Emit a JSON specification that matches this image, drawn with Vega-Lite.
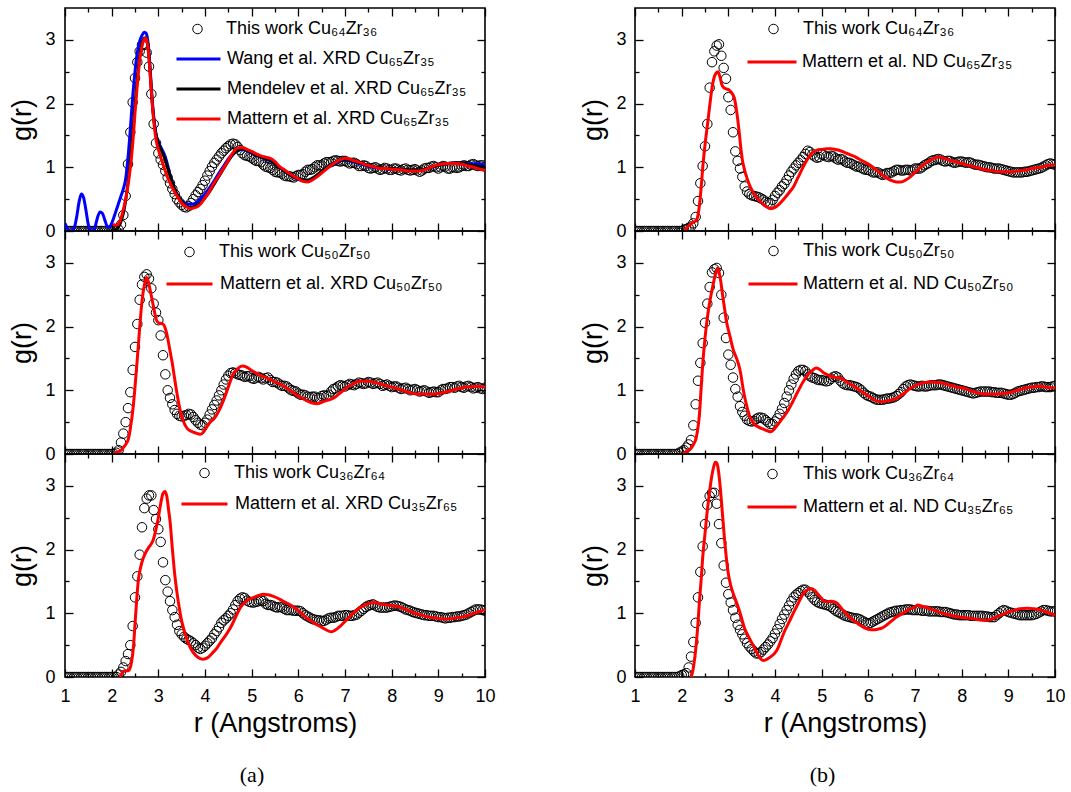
{
  "$schema": "https://vega.github.io/schema/vega-lite/v6.json",
  "padding": {"left": 8, "top": 6, "right": 4, "bottom": 4},
  "background": "white",
  "datasets": {
    "a1t": [{"r":1,"g":0},{"r":1.05,"g":0},{"r":1.1,"g":0},{"r":1.15,"g":0},{"r":1.2,"g":0},{"r":1.25,"g":0},{"r":1.3,"g":0},{"r":1.35,"g":0},{"r":1.4,"g":0},{"r":1.45,"g":0},{"r":1.5,"g":0},{"r":1.55,"g":0},{"r":1.6,"g":0},{"r":1.65,"g":0},{"r":1.7,"g":0},{"r":1.75,"g":0},{"r":1.8,"g":0},{"r":1.85,"g":0},{"r":1.9,"g":0},{"r":1.95,"g":0},{"r":2,"g":0},{"r":2.05,"g":0},{"r":2.1,"g":0},{"r":2.15,"g":0.02},{"r":2.2,"g":0.1},{"r":2.25,"g":0.25},{"r":2.3,"g":0.55},{"r":2.35,"g":1.05},{"r":2.4,"g":1.55},{"r":2.45,"g":2.02},{"r":2.5,"g":2.4},{"r":2.55,"g":2.65},{"r":2.6,"g":2.82},{"r":2.65,"g":2.92},{"r":2.7,"g":2.92},{"r":2.75,"g":2.8},{"r":2.8,"g":2.58},{"r":2.85,"g":2.15},{"r":2.9,"g":1.68},{"r":2.95,"g":1.38},{"r":3,"g":1.22},{"r":3.05,"g":1.12},{"r":3.1,"g":1.04},{"r":3.15,"g":0.94},{"r":3.2,"g":0.84},{"r":3.25,"g":0.75},{"r":3.3,"g":0.66},{"r":3.35,"g":0.58},{"r":3.4,"g":0.5},{"r":3.45,"g":0.45},{"r":3.5,"g":0.41},{"r":3.55,"g":0.38},{"r":3.6,"g":0.37},{"r":3.65,"g":0.39},{"r":3.7,"g":0.44},{"r":3.75,"g":0.5},{"r":3.8,"g":0.56},{"r":3.85,"g":0.61},{"r":3.9,"g":0.66},{"r":3.95,"g":0.72},{"r":4,"g":0.79},{"r":4.05,"g":0.87},{"r":4.1,"g":0.94},{"r":4.15,"g":1.01},{"r":4.2,"g":1.07},{"r":4.25,"g":1.12},{"r":4.3,"g":1.17},{"r":4.35,"g":1.22},{"r":4.4,"g":1.26},{"r":4.45,"g":1.3},{"r":4.5,"g":1.33},{"r":4.55,"g":1.36},{"r":4.6,"g":1.37},{"r":4.65,"g":1.36},{"r":4.7,"g":1.32},{"r":4.75,"g":1.27},{"r":4.8,"g":1.22},{"r":4.85,"g":1.19},{"r":4.9,"g":1.18},{"r":4.95,"g":1.17},{"r":5,"g":1.15},{"r":5.05,"g":1.12},{"r":5.1,"g":1.1},{"r":5.15,"g":1.1},{"r":5.2,"g":1.08},{"r":5.25,"g":1.04},{"r":5.3,"g":1.01},{"r":5.35,"g":1},{"r":5.4,"g":0.99},{"r":5.45,"g":0.96},{"r":5.5,"g":0.93},{"r":5.55,"g":0.92},{"r":5.6,"g":0.92},{"r":5.65,"g":0.9},{"r":5.7,"g":0.87},{"r":5.75,"g":0.86},{"r":5.8,"g":0.86},{"r":5.85,"g":0.85},{"r":5.9,"g":0.84},{"r":5.95,"g":0.86},{"r":6,"g":0.88},{"r":6.05,"g":0.88},{"r":6.1,"g":0.89},{"r":6.15,"g":0.93},{"r":6.2,"g":0.96},{"r":6.25,"g":0.96},{"r":6.3,"g":0.97},{"r":6.35,"g":1},{"r":6.4,"g":1.03},{"r":6.45,"g":1.03},{"r":6.5,"g":1.03},{"r":6.55,"g":1.06},{"r":6.6,"g":1.08},{"r":6.65,"g":1.08},{"r":6.7,"g":1.08},{"r":6.75,"g":1.1},{"r":6.8,"g":1.11},{"r":6.85,"g":1.1},{"r":6.9,"g":1.09},{"r":6.95,"g":1.1},{"r":7,"g":1.1},{"r":7.05,"g":1.08},{"r":7.1,"g":1.06},{"r":7.15,"g":1.07},{"r":7.2,"g":1.07},{"r":7.25,"g":1.05},{"r":7.3,"g":1.02},{"r":7.35,"g":1.02},{"r":7.4,"g":1.03},{"r":7.45,"g":1.02},{"r":7.5,"g":0.99},{"r":7.55,"g":0.98},{"r":7.6,"g":0.99},{"r":7.65,"g":1},{"r":7.7,"g":0.98},{"r":7.75,"g":0.96},{"r":7.8,"g":0.97},{"r":7.85,"g":0.99},{"r":7.9,"g":0.98},{"r":7.95,"g":0.96},{"r":8,"g":0.96},{"r":8.05,"g":0.98},{"r":8.1,"g":0.98},{"r":8.15,"g":0.96},{"r":8.2,"g":0.95},{"r":8.25,"g":0.97},{"r":8.3,"g":0.98},{"r":8.35,"g":0.96},{"r":8.4,"g":0.95},{"r":8.45,"g":0.96},{"r":8.5,"g":0.97},{"r":8.55,"g":0.95},{"r":8.6,"g":0.93},{"r":8.65,"g":0.95},{"r":8.7,"g":0.98},{"r":8.75,"g":0.99},{"r":8.8,"g":0.99},{"r":8.85,"g":1.01},{"r":8.9,"g":1.02},{"r":8.95,"g":1},{"r":9,"g":0.98},{"r":9.05,"g":1},{"r":9.1,"g":1.02},{"r":9.15,"g":1.01},{"r":9.2,"g":0.98},{"r":9.25,"g":0.98},{"r":9.3,"g":1},{"r":9.35,"g":1},{"r":9.4,"g":0.99},{"r":9.45,"g":1},{"r":9.5,"g":1.02},{"r":9.55,"g":1.03},{"r":9.6,"g":1.02},{"r":9.65,"g":1.02},{"r":9.7,"g":1.04},{"r":9.75,"g":1.05},{"r":9.8,"g":1.03},{"r":9.85,"g":1.02},{"r":9.9,"g":1.03},{"r":9.95,"g":1.03},{"r":10,"g":1.01}],
    "a1w": [{"r":1,"g":0.12},{"r":1.05,"g":0.04},{"r":1.1,"g":0},{"r":1.15,"g":0},{"r":1.2,"g":0.05},{"r":1.25,"g":0.22},{"r":1.3,"g":0.45},{"r":1.35,"g":0.58},{"r":1.4,"g":0.52},{"r":1.45,"g":0.32},{"r":1.5,"g":0.1},{"r":1.55,"g":0},{"r":1.6,"g":0},{"r":1.65,"g":0.08},{"r":1.7,"g":0.22},{"r":1.75,"g":0.3},{"r":1.8,"g":0.28},{"r":1.85,"g":0.18},{"r":1.9,"g":0.08},{"r":1.95,"g":0.06},{"r":2,"g":0.12},{"r":2.05,"g":0.22},{"r":2.1,"g":0.33},{"r":2.15,"g":0.44},{"r":2.2,"g":0.55},{"r":2.25,"g":0.66},{"r":2.3,"g":0.82},{"r":2.35,"g":1.15},{"r":2.4,"g":1.6},{"r":2.45,"g":2.1},{"r":2.5,"g":2.5},{"r":2.55,"g":2.8},{"r":2.6,"g":2.98},{"r":2.65,"g":3.07},{"r":2.7,"g":3.12},{"r":2.74,"g":3.1},{"r":2.78,"g":2.95},{"r":2.82,"g":2.6},{"r":2.86,"g":2.15},{"r":2.9,"g":1.8},{"r":2.95,"g":1.52},{"r":3,"g":1.4},{"r":3.05,"g":1.32},{"r":3.1,"g":1.25},{"r":3.15,"g":1.16},{"r":3.2,"g":1.03},{"r":3.25,"g":0.88},{"r":3.3,"g":0.76},{"r":3.35,"g":0.65},{"r":3.4,"g":0.57},{"r":3.45,"g":0.51},{"r":3.5,"g":0.47},{"r":3.55,"g":0.44},{"r":3.6,"g":0.42},{"r":3.7,"g":0.42},{"r":3.8,"g":0.44},{"r":3.9,"g":0.5},{"r":4,"g":0.58},{"r":4.1,"g":0.68},{"r":4.2,"g":0.79},{"r":4.3,"g":0.91},{"r":4.4,"g":1.02},{"r":4.5,"g":1.13},{"r":4.6,"g":1.22},{"r":4.7,"g":1.27},{"r":4.8,"g":1.28},{"r":4.9,"g":1.26},{"r":5,"g":1.22},{"r":5.1,"g":1.19},{"r":5.2,"g":1.16},{"r":5.3,"g":1.13},{"r":5.4,"g":1.1},{"r":5.5,"g":1.06},{"r":5.6,"g":1},{"r":5.7,"g":0.94},{"r":5.8,"g":0.89},{"r":5.9,"g":0.85},{"r":6,"g":0.81},{"r":6.1,"g":0.79},{"r":6.2,"g":0.79},{"r":6.3,"g":0.82},{"r":6.4,"g":0.87},{"r":6.5,"g":0.93},{"r":6.6,"g":0.98},{"r":6.7,"g":1.03},{"r":6.8,"g":1.07},{"r":6.9,"g":1.1},{"r":7,"g":1.11},{"r":7.1,"g":1.1},{"r":7.2,"g":1.08},{"r":7.3,"g":1.06},{"r":7.4,"g":1.04},{"r":7.5,"g":1.02},{"r":7.6,"g":1},{"r":7.8,"g":0.98},{"r":8,"g":0.97},{"r":8.2,"g":0.96},{"r":8.4,"g":0.95},{"r":8.6,"g":0.95},{"r":8.8,"g":0.99},{"r":9,"g":1.03},{"r":9.2,"g":1.06},{"r":9.4,"g":1.07},{"r":9.6,"g":1.06},{"r":9.8,"g":1.05},{"r":10,"g":1.04}],
    "a1m": [{"r":1.9,"g":0},{"r":2,"g":0},{"r":2.05,"g":0.01},{"r":2.1,"g":0.03},{"r":2.15,"g":0.07},{"r":2.2,"g":0.15},{"r":2.25,"g":0.28},{"r":2.3,"g":0.48},{"r":2.35,"g":0.76},{"r":2.4,"g":1.1},{"r":2.45,"g":1.52},{"r":2.5,"g":1.98},{"r":2.55,"g":2.4},{"r":2.6,"g":2.74},{"r":2.65,"g":2.94},{"r":2.7,"g":3.03},{"r":2.74,"g":3.03},{"r":2.78,"g":2.9},{"r":2.82,"g":2.55},{"r":2.86,"g":2.1},{"r":2.9,"g":1.78},{"r":2.95,"g":1.52},{"r":3,"g":1.38},{"r":3.05,"g":1.29},{"r":3.1,"g":1.21},{"r":3.15,"g":1.11},{"r":3.2,"g":0.99},{"r":3.25,"g":0.87},{"r":3.3,"g":0.76},{"r":3.35,"g":0.66},{"r":3.4,"g":0.58},{"r":3.45,"g":0.51},{"r":3.5,"g":0.46},{"r":3.55,"g":0.42},{"r":3.6,"g":0.39},{"r":3.65,"g":0.37},{"r":3.7,"g":0.37},{"r":3.8,"g":0.39},{"r":3.9,"g":0.44},{"r":4,"g":0.52},{"r":4.1,"g":0.62},{"r":4.2,"g":0.74},{"r":4.3,"g":0.86},{"r":4.4,"g":0.98},{"r":4.5,"g":1.1},{"r":4.6,"g":1.2},{"r":4.7,"g":1.27},{"r":4.8,"g":1.29},{"r":4.9,"g":1.27},{"r":5,"g":1.23},{"r":5.1,"g":1.19},{"r":5.2,"g":1.16},{"r":5.3,"g":1.14},{"r":5.4,"g":1.11},{"r":5.5,"g":1.06},{"r":5.6,"g":1},{"r":5.7,"g":0.94},{"r":5.8,"g":0.89},{"r":5.9,"g":0.85},{"r":6,"g":0.82},{"r":6.1,"g":0.8},{"r":6.2,"g":0.8},{"r":6.3,"g":0.83},{"r":6.4,"g":0.88},{"r":6.5,"g":0.94},{"r":6.6,"g":0.99},{"r":6.7,"g":1.04},{"r":6.8,"g":1.08},{"r":6.9,"g":1.11},{"r":7,"g":1.12},{"r":7.1,"g":1.11},{"r":7.2,"g":1.09},{"r":7.3,"g":1.07},{"r":7.4,"g":1.05},{"r":7.5,"g":1.03},{"r":7.6,"g":1.01},{"r":7.8,"g":0.99},{"r":8,"g":0.98},{"r":8.2,"g":0.97},{"r":8.4,"g":0.96},{"r":8.6,"g":0.96},{"r":8.8,"g":0.99},{"r":9,"g":1.03},{"r":9.2,"g":1.06},{"r":9.4,"g":1.07},{"r":9.6,"g":1.05},{"r":9.8,"g":1.02},{"r":10,"g":1}],
    "a1x": [{"r":2.03,"g":0.11},{"r":2.08,"g":0.09},{"r":2.13,"g":0.1},{"r":2.18,"g":0.16},{"r":2.22,"g":0.25},{"r":2.27,"g":0.4},{"r":2.32,"g":0.58},{"r":2.37,"g":0.82},{"r":2.42,"g":1.12},{"r":2.46,"g":1.45},{"r":2.5,"g":1.85},{"r":2.55,"g":2.3},{"r":2.6,"g":2.68},{"r":2.65,"g":2.9},{"r":2.7,"g":3.01},{"r":2.73,"g":3.03},{"r":2.77,"g":2.92},{"r":2.8,"g":2.7},{"r":2.84,"g":2.3},{"r":2.88,"g":1.9},{"r":2.92,"g":1.6},{"r":2.96,"g":1.4},{"r":3,"g":1.28},{"r":3.05,"g":1.16},{"r":3.1,"g":1.05},{"r":3.15,"g":0.94},{"r":3.2,"g":0.84},{"r":3.25,"g":0.76},{"r":3.3,"g":0.68},{"r":3.35,"g":0.61},{"r":3.4,"g":0.55},{"r":3.45,"g":0.49},{"r":3.5,"g":0.44},{"r":3.55,"g":0.4},{"r":3.6,"g":0.38},{"r":3.65,"g":0.36},{"r":3.7,"g":0.35},{"r":3.75,"g":0.36},{"r":3.8,"g":0.37},{"r":3.85,"g":0.39},{"r":3.9,"g":0.42},{"r":4,"g":0.52},{"r":4.1,"g":0.63},{"r":4.2,"g":0.76},{"r":4.3,"g":0.87},{"r":4.4,"g":0.99},{"r":4.5,"g":1.11},{"r":4.6,"g":1.23},{"r":4.7,"g":1.3},{"r":4.8,"g":1.31},{"r":4.9,"g":1.28},{"r":5,"g":1.25},{"r":5.1,"g":1.21},{"r":5.2,"g":1.18},{"r":5.3,"g":1.16},{"r":5.4,"g":1.14},{"r":5.5,"g":1.09},{"r":5.6,"g":1.01},{"r":5.7,"g":0.96},{"r":5.8,"g":0.91},{"r":5.9,"g":0.86},{"r":6,"g":0.82},{"r":6.1,"g":0.78},{"r":6.2,"g":0.77},{"r":6.3,"g":0.8},{"r":6.4,"g":0.85},{"r":6.5,"g":0.91},{"r":6.6,"g":0.97},{"r":6.7,"g":1.03},{"r":6.8,"g":1.08},{"r":6.9,"g":1.12},{"r":7,"g":1.14},{"r":7.1,"g":1.13},{"r":7.2,"g":1.1},{"r":7.3,"g":1.08},{"r":7.4,"g":1.05},{"r":7.5,"g":1.03},{"r":7.6,"g":1.01},{"r":7.7,"g":0.99},{"r":7.8,"g":0.98},{"r":7.9,"g":0.98},{"r":8,"g":0.97},{"r":8.2,"g":0.96},{"r":8.4,"g":0.94},{"r":8.6,"g":0.94},{"r":8.7,"g":0.96},{"r":8.8,"g":0.99},{"r":8.9,"g":1.02},{"r":9,"g":1.04},{"r":9.2,"g":1.06},{"r":9.4,"g":1.06},{"r":9.6,"g":1.03},{"r":9.8,"g":0.99},{"r":10,"g":0.95}],
    "a2t": [{"r":1,"g":0},{"r":1.05,"g":0},{"r":1.1,"g":0},{"r":1.15,"g":0},{"r":1.2,"g":0},{"r":1.25,"g":0},{"r":1.3,"g":0},{"r":1.35,"g":0},{"r":1.4,"g":0},{"r":1.45,"g":0},{"r":1.5,"g":0},{"r":1.55,"g":0},{"r":1.6,"g":0},{"r":1.65,"g":0},{"r":1.7,"g":0},{"r":1.75,"g":0},{"r":1.8,"g":0},{"r":1.85,"g":0},{"r":1.9,"g":0},{"r":1.95,"g":0},{"r":2,"g":0},{"r":2.05,"g":0},{"r":2.1,"g":0.02},{"r":2.15,"g":0.06},{"r":2.2,"g":0.18},{"r":2.25,"g":0.32},{"r":2.3,"g":0.5},{"r":2.35,"g":0.72},{"r":2.4,"g":0.97},{"r":2.45,"g":1.32},{"r":2.5,"g":1.68},{"r":2.55,"g":2.04},{"r":2.6,"g":2.42},{"r":2.65,"g":2.66},{"r":2.7,"g":2.78},{"r":2.75,"g":2.82},{"r":2.8,"g":2.75},{"r":2.85,"g":2.6},{"r":2.9,"g":2.36},{"r":2.95,"g":2.22},{"r":3,"g":2.1},{"r":3.05,"g":1.86},{"r":3.1,"g":1.55},{"r":3.15,"g":1.25},{"r":3.2,"g":1},{"r":3.25,"g":0.88},{"r":3.3,"g":0.78},{"r":3.35,"g":0.69},{"r":3.4,"g":0.63},{"r":3.45,"g":0.6},{"r":3.5,"g":0.59},{"r":3.55,"g":0.6},{"r":3.6,"g":0.61},{"r":3.65,"g":0.63},{"r":3.7,"g":0.62},{"r":3.75,"g":0.58},{"r":3.8,"g":0.53},{"r":3.85,"g":0.49},{"r":3.9,"g":0.46},{"r":3.95,"g":0.45},{"r":4,"g":0.49},{"r":4.05,"g":0.54},{"r":4.1,"g":0.62},{"r":4.15,"g":0.7},{"r":4.2,"g":0.77},{"r":4.25,"g":0.84},{"r":4.3,"g":0.92},{"r":4.35,"g":1},{"r":4.4,"g":1.09},{"r":4.45,"g":1.17},{"r":4.5,"g":1.23},{"r":4.55,"g":1.27},{"r":4.6,"g":1.28},{"r":4.65,"g":1.27},{"r":4.7,"g":1.25},{"r":4.75,"g":1.24},{"r":4.8,"g":1.23},{"r":4.85,"g":1.21},{"r":4.9,"g":1.22},{"r":4.95,"g":1.22},{"r":5,"g":1.19},{"r":5.05,"g":1.18},{"r":5.1,"g":1.2},{"r":5.15,"g":1.21},{"r":5.2,"g":1.19},{"r":5.25,"g":1.17},{"r":5.3,"g":1.19},{"r":5.35,"g":1.2},{"r":5.4,"g":1.16},{"r":5.45,"g":1.13},{"r":5.5,"g":1.13},{"r":5.55,"g":1.12},{"r":5.6,"g":1.09},{"r":5.65,"g":1.07},{"r":5.7,"g":1.07},{"r":5.75,"g":1.06},{"r":5.8,"g":1.03},{"r":5.85,"g":1},{"r":5.9,"g":0.99},{"r":5.95,"g":0.98},{"r":6,"g":0.95},{"r":6.05,"g":0.93},{"r":6.1,"g":0.93},{"r":6.15,"g":0.92},{"r":6.2,"g":0.9},{"r":6.25,"g":0.89},{"r":6.3,"g":0.9},{"r":6.35,"g":0.9},{"r":6.4,"g":0.88},{"r":6.45,"g":0.88},{"r":6.5,"g":0.91},{"r":6.55,"g":0.92},{"r":6.6,"g":0.91},{"r":6.65,"g":0.93},{"r":6.7,"g":0.98},{"r":6.75,"g":1.02},{"r":6.8,"g":1.03},{"r":6.85,"g":1.06},{"r":6.9,"g":1.08},{"r":6.95,"g":1.07},{"r":7,"g":1.06},{"r":7.05,"g":1.08},{"r":7.1,"g":1.1},{"r":7.15,"g":1.09},{"r":7.2,"g":1.08},{"r":7.25,"g":1.1},{"r":7.3,"g":1.12},{"r":7.35,"g":1.11},{"r":7.4,"g":1.1},{"r":7.45,"g":1.11},{"r":7.5,"g":1.13},{"r":7.55,"g":1.12},{"r":7.6,"g":1.1},{"r":7.65,"g":1.11},{"r":7.7,"g":1.12},{"r":7.75,"g":1.1},{"r":7.8,"g":1.07},{"r":7.85,"g":1.08},{"r":7.9,"g":1.09},{"r":7.95,"g":1.07},{"r":8,"g":1.05},{"r":8.05,"g":1.06},{"r":8.1,"g":1.06},{"r":8.15,"g":1.04},{"r":8.2,"g":1.02},{"r":8.25,"g":1.03},{"r":8.3,"g":1.04},{"r":8.35,"g":1.02},{"r":8.4,"g":1},{"r":8.45,"g":1.01},{"r":8.5,"g":1.02},{"r":8.55,"g":1},{"r":8.6,"g":0.98},{"r":8.65,"g":0.99},{"r":8.7,"g":1},{"r":8.75,"g":0.98},{"r":8.8,"g":0.96},{"r":8.85,"g":0.97},{"r":8.9,"g":0.98},{"r":8.95,"g":0.97},{"r":9,"g":0.97},{"r":9.05,"g":1},{"r":9.1,"g":1.02},{"r":9.15,"g":1.02},{"r":9.2,"g":1.03},{"r":9.25,"g":1.05},{"r":9.3,"g":1.05},{"r":9.35,"g":1.04},{"r":9.4,"g":1.06},{"r":9.45,"g":1.07},{"r":9.5,"g":1.05},{"r":9.55,"g":1.04},{"r":9.6,"g":1.06},{"r":9.65,"g":1.07},{"r":9.7,"g":1.05},{"r":9.75,"g":1.03},{"r":9.8,"g":1.04},{"r":9.85,"g":1.05},{"r":9.9,"g":1.03},{"r":9.95,"g":1.02},{"r":10,"g":1.04}],
    "a2x": [{"r":2.04,"g":0},{"r":2.1,"g":0.02},{"r":2.18,"g":0.05},{"r":2.25,"g":0.1},{"r":2.3,"g":0.15},{"r":2.36,"g":0.24},{"r":2.4,"g":0.4},{"r":2.46,"g":0.73},{"r":2.5,"g":1.05},{"r":2.55,"g":1.5},{"r":2.6,"g":1.98},{"r":2.65,"g":2.4},{"r":2.7,"g":2.65},{"r":2.75,"g":2.77},{"r":2.8,"g":2.66},{"r":2.85,"g":2.48},{"r":2.9,"g":2.3},{"r":2.95,"g":2.12},{"r":3,"g":2.06},{"r":3.05,"g":2.05},{"r":3.1,"g":2.04},{"r":3.15,"g":1.97},{"r":3.2,"g":1.82},{"r":3.25,"g":1.62},{"r":3.3,"g":1.42},{"r":3.35,"g":1.18},{"r":3.4,"g":0.95},{"r":3.45,"g":0.75},{"r":3.5,"g":0.6},{"r":3.55,"g":0.49},{"r":3.6,"g":0.42},{"r":3.65,"g":0.38},{"r":3.7,"g":0.36},{"r":3.8,"g":0.33},{"r":3.9,"g":0.31},{"r":3.95,"g":0.33},{"r":4,"g":0.38},{"r":4.05,"g":0.44},{"r":4.1,"g":0.49},{"r":4.2,"g":0.56},{"r":4.3,"g":0.68},{"r":4.4,"g":0.85},{"r":4.5,"g":1.05},{"r":4.6,"g":1.25},{"r":4.7,"g":1.34},{"r":4.8,"g":1.38},{"r":4.9,"g":1.36},{"r":5,"g":1.31},{"r":5.1,"g":1.27},{"r":5.2,"g":1.23},{"r":5.3,"g":1.2},{"r":5.4,"g":1.17},{"r":5.5,"g":1.13},{"r":5.6,"g":1.1},{"r":5.7,"g":1.06},{"r":5.8,"g":1.01},{"r":5.9,"g":0.96},{"r":6,"g":0.91},{"r":6.1,"g":0.87},{"r":6.2,"g":0.83},{"r":6.3,"g":0.8},{"r":6.4,"g":0.79},{"r":6.5,"g":0.81},{"r":6.6,"g":0.84},{"r":6.7,"g":0.86},{"r":6.8,"g":0.9},{"r":6.9,"g":0.96},{"r":7,"g":1.02},{"r":7.1,"g":1.07},{"r":7.2,"g":1.11},{"r":7.3,"g":1.14},{"r":7.4,"g":1.14},{"r":7.5,"g":1.14},{"r":7.6,"g":1.13},{"r":7.7,"g":1.11},{"r":7.8,"g":1.09},{"r":7.9,"g":1.07},{"r":8,"g":1.05},{"r":8.2,"g":1.01},{"r":8.4,"g":0.96},{"r":8.6,"g":0.94},{"r":8.8,"g":0.94},{"r":9,"g":0.95},{"r":9.2,"g":0.98},{"r":9.4,"g":1.02},{"r":9.6,"g":1.05},{"r":9.8,"g":1.06},{"r":10,"g":1.05}],
    "a3t": [{"r":1,"g":0},{"r":1.05,"g":0},{"r":1.1,"g":0},{"r":1.15,"g":0},{"r":1.2,"g":0},{"r":1.25,"g":0},{"r":1.3,"g":0},{"r":1.35,"g":0},{"r":1.4,"g":0},{"r":1.45,"g":0},{"r":1.5,"g":0},{"r":1.55,"g":0},{"r":1.6,"g":0},{"r":1.65,"g":0},{"r":1.7,"g":0},{"r":1.75,"g":0},{"r":1.8,"g":0},{"r":1.85,"g":0},{"r":1.9,"g":0},{"r":1.95,"g":0},{"r":2,"g":0},{"r":2.05,"g":0},{"r":2.1,"g":0},{"r":2.15,"g":0.04},{"r":2.2,"g":0.08},{"r":2.25,"g":0.15},{"r":2.3,"g":0.25},{"r":2.35,"g":0.36},{"r":2.4,"g":0.5},{"r":2.45,"g":0.8},{"r":2.5,"g":1.25},{"r":2.55,"g":1.58},{"r":2.6,"g":1.92},{"r":2.65,"g":2.35},{"r":2.7,"g":2.65},{"r":2.75,"g":2.8},{"r":2.8,"g":2.85},{"r":2.85,"g":2.85},{"r":2.9,"g":2.62},{"r":2.95,"g":2.48},{"r":3,"g":2.32},{"r":3.05,"g":2.12},{"r":3.1,"g":1.8},{"r":3.15,"g":1.52},{"r":3.2,"g":1.34},{"r":3.25,"g":1.19},{"r":3.3,"g":1.05},{"r":3.35,"g":0.94},{"r":3.4,"g":0.82},{"r":3.45,"g":0.72},{"r":3.5,"g":0.67},{"r":3.55,"g":0.63},{"r":3.6,"g":0.6},{"r":3.65,"g":0.58},{"r":3.7,"g":0.56},{"r":3.75,"g":0.53},{"r":3.8,"g":0.5},{"r":3.85,"g":0.46},{"r":3.9,"g":0.44},{"r":3.95,"g":0.46},{"r":4,"g":0.49},{"r":4.05,"g":0.53},{"r":4.1,"g":0.57},{"r":4.15,"g":0.61},{"r":4.2,"g":0.67},{"r":4.25,"g":0.72},{"r":4.3,"g":0.78},{"r":4.35,"g":0.85},{"r":4.4,"g":0.89},{"r":4.45,"g":0.92},{"r":4.5,"g":0.96},{"r":4.55,"g":1},{"r":4.6,"g":1.06},{"r":4.65,"g":1.13},{"r":4.7,"g":1.19},{"r":4.75,"g":1.23},{"r":4.8,"g":1.25},{"r":4.85,"g":1.24},{"r":4.9,"g":1.2},{"r":4.95,"g":1.18},{"r":5,"g":1.17},{"r":5.05,"g":1.17},{"r":5.1,"g":1.18},{"r":5.15,"g":1.19},{"r":5.2,"g":1.2},{"r":5.25,"g":1.19},{"r":5.3,"g":1.15},{"r":5.35,"g":1.13},{"r":5.4,"g":1.13},{"r":5.45,"g":1.12},{"r":5.5,"g":1.1},{"r":5.55,"g":1.09},{"r":5.6,"g":1.1},{"r":5.65,"g":1.09},{"r":5.7,"g":1.07},{"r":5.75,"g":1.05},{"r":5.8,"g":1.05},{"r":5.85,"g":1.05},{"r":5.9,"g":1.04},{"r":5.95,"g":1.04},{"r":6,"g":1.04},{"r":6.05,"g":1.03},{"r":6.1,"g":1},{"r":6.15,"g":0.97},{"r":6.2,"g":0.95},{"r":6.25,"g":0.93},{"r":6.3,"g":0.91},{"r":6.35,"g":0.9},{"r":6.4,"g":0.89},{"r":6.45,"g":0.89},{"r":6.5,"g":0.88},{"r":6.55,"g":0.88},{"r":6.6,"g":0.9},{"r":6.65,"g":0.92},{"r":6.7,"g":0.93},{"r":6.75,"g":0.93},{"r":6.8,"g":0.94},{"r":6.85,"g":0.96},{"r":6.9,"g":0.96},{"r":6.95,"g":0.96},{"r":7,"g":0.97},{"r":7.05,"g":0.97},{"r":7.1,"g":0.96},{"r":7.15,"g":0.96},{"r":7.2,"g":0.97},{"r":7.25,"g":0.98},{"r":7.3,"g":1.01},{"r":7.35,"g":1.04},{"r":7.4,"g":1.07},{"r":7.45,"g":1.1},{"r":7.5,"g":1.12},{"r":7.55,"g":1.13},{"r":7.6,"g":1.14},{"r":7.65,"g":1.12},{"r":7.7,"g":1.1},{"r":7.75,"g":1.09},{"r":7.8,"g":1.09},{"r":7.85,"g":1.09},{"r":7.9,"g":1.09},{"r":7.95,"g":1.1},{"r":8,"g":1.11},{"r":8.05,"g":1.12},{"r":8.1,"g":1.12},{"r":8.15,"g":1.11},{"r":8.2,"g":1.1},{"r":8.25,"g":1.08},{"r":8.3,"g":1.06},{"r":8.35,"g":1.05},{"r":8.4,"g":1.04},{"r":8.45,"g":1.02},{"r":8.5,"g":1.01},{"r":8.55,"g":1},{"r":8.6,"g":0.99},{"r":8.65,"g":0.98},{"r":8.7,"g":0.97},{"r":8.75,"g":0.97},{"r":8.8,"g":0.96},{"r":8.85,"g":0.96},{"r":8.9,"g":0.96},{"r":8.95,"g":0.95},{"r":9,"g":0.94},{"r":9.05,"g":0.94},{"r":9.1,"g":0.93},{"r":9.15,"g":0.92},{"r":9.2,"g":0.93},{"r":9.25,"g":0.93},{"r":9.3,"g":0.94},{"r":9.35,"g":0.94},{"r":9.4,"g":0.95},{"r":9.45,"g":0.95},{"r":9.5,"g":0.96},{"r":9.55,"g":0.97},{"r":9.6,"g":0.98},{"r":9.65,"g":1},{"r":9.7,"g":1.02},{"r":9.75,"g":1.04},{"r":9.8,"g":1.06},{"r":9.85,"g":1.06},{"r":9.9,"g":1.06},{"r":9.95,"g":1.05},{"r":10,"g":1.04}],
    "a3x": [{"r":2.18,"g":0},{"r":2.22,"g":0.06},{"r":2.25,"g":0.09},{"r":2.3,"g":0.1},{"r":2.36,"g":0.1},{"r":2.4,"g":0.15},{"r":2.43,"g":0.25},{"r":2.47,"g":0.5},{"r":2.5,"g":0.83},{"r":2.54,"g":1.25},{"r":2.57,"g":1.51},{"r":2.62,"g":1.72},{"r":2.68,"g":1.87},{"r":2.74,"g":1.97},{"r":2.79,"g":2.03},{"r":2.84,"g":2.08},{"r":2.89,"g":2.15},{"r":2.95,"g":2.32},{"r":3,"g":2.5},{"r":3.05,"g":2.72},{"r":3.1,"g":2.88},{"r":3.14,"g":2.91},{"r":3.18,"g":2.84},{"r":3.22,"g":2.62},{"r":3.25,"g":2.45},{"r":3.3,"g":2.02},{"r":3.35,"g":1.62},{"r":3.4,"g":1.32},{"r":3.45,"g":1.08},{"r":3.5,"g":0.88},{"r":3.55,"g":0.74},{"r":3.6,"g":0.62},{"r":3.65,"g":0.52},{"r":3.7,"g":0.44},{"r":3.8,"g":0.34},{"r":3.9,"g":0.29},{"r":3.96,"g":0.28},{"r":4.05,"g":0.3},{"r":4.15,"g":0.37},{"r":4.25,"g":0.45},{"r":4.35,"g":0.56},{"r":4.45,"g":0.66},{"r":4.55,"g":0.78},{"r":4.65,"g":0.93},{"r":4.75,"g":1.08},{"r":4.85,"g":1.17},{"r":4.95,"g":1.22},{"r":5.05,"g":1.25},{"r":5.15,"g":1.28},{"r":5.25,"g":1.3},{"r":5.35,"g":1.29},{"r":5.45,"g":1.27},{"r":5.55,"g":1.24},{"r":5.65,"g":1.2},{"r":5.75,"g":1.16},{"r":5.85,"g":1.12},{"r":5.95,"g":1.07},{"r":6.05,"g":1.01},{"r":6.15,"g":0.94},{"r":6.25,"g":0.89},{"r":6.35,"g":0.84},{"r":6.45,"g":0.8},{"r":6.55,"g":0.76},{"r":6.65,"g":0.72},{"r":6.71,"g":0.71},{"r":6.8,"g":0.74},{"r":6.9,"g":0.8},{"r":7,"g":0.87},{"r":7.1,"g":0.95},{"r":7.2,"g":1.02},{"r":7.3,"g":1.08},{"r":7.4,"g":1.12},{"r":7.5,"g":1.15},{"r":7.6,"g":1.17},{"r":7.7,"g":1.16},{"r":7.8,"g":1.14},{"r":7.9,"g":1.13},{"r":8,"g":1.12},{"r":8.1,"g":1.11},{"r":8.2,"g":1.09},{"r":8.3,"g":1.06},{"r":8.4,"g":1.03},{"r":8.5,"g":1},{"r":8.6,"g":0.98},{"r":8.7,"g":0.96},{"r":8.8,"g":0.94},{"r":8.9,"g":0.93},{"r":9,"g":0.92},{"r":9.1,"g":0.91},{"r":9.2,"g":0.91},{"r":9.3,"g":0.92},{"r":9.4,"g":0.93},{"r":9.5,"g":0.94},{"r":9.6,"g":0.96},{"r":9.7,"g":0.98},{"r":9.8,"g":1.01},{"r":9.9,"g":1.03},{"r":10,"g":1.06}],
    "b1t": [{"r":1,"g":0},{"r":1.05,"g":0},{"r":1.1,"g":0},{"r":1.15,"g":0},{"r":1.2,"g":0},{"r":1.25,"g":0},{"r":1.3,"g":0},{"r":1.35,"g":0},{"r":1.4,"g":0},{"r":1.45,"g":0},{"r":1.5,"g":0},{"r":1.55,"g":0},{"r":1.6,"g":0},{"r":1.65,"g":0},{"r":1.7,"g":0},{"r":1.75,"g":0},{"r":1.8,"g":0},{"r":1.85,"g":0},{"r":1.9,"g":0},{"r":1.95,"g":0},{"r":2,"g":0},{"r":2.05,"g":0.02},{"r":2.1,"g":0.03},{"r":2.15,"g":0.05},{"r":2.2,"g":0.07},{"r":2.25,"g":0.12},{"r":2.3,"g":0.22},{"r":2.35,"g":0.47},{"r":2.4,"g":0.75},{"r":2.45,"g":1.02},{"r":2.5,"g":1.33},{"r":2.55,"g":1.68},{"r":2.6,"g":2.25},{"r":2.65,"g":2.65},{"r":2.7,"g":2.82},{"r":2.75,"g":2.91},{"r":2.8,"g":2.93},{"r":2.85,"g":2.75},{"r":2.9,"g":2.56},{"r":2.95,"g":2.39},{"r":3,"g":2.1},{"r":3.05,"g":1.9},{"r":3.1,"g":1.55},{"r":3.15,"g":1.25},{"r":3.2,"g":1.1},{"r":3.25,"g":0.98},{"r":3.3,"g":0.85},{"r":3.35,"g":0.7},{"r":3.4,"g":0.62},{"r":3.45,"g":0.58},{"r":3.5,"g":0.56},{"r":3.55,"g":0.55},{"r":3.6,"g":0.54},{"r":3.65,"g":0.53},{"r":3.7,"g":0.51},{"r":3.75,"g":0.49},{"r":3.8,"g":0.46},{"r":3.85,"g":0.44},{"r":3.9,"g":0.44},{"r":3.95,"g":0.49},{"r":4,"g":0.55},{"r":4.05,"g":0.6},{"r":4.1,"g":0.64},{"r":4.15,"g":0.7},{"r":4.2,"g":0.74},{"r":4.25,"g":0.8},{"r":4.3,"g":0.87},{"r":4.35,"g":0.93},{"r":4.4,"g":0.98},{"r":4.45,"g":1.03},{"r":4.5,"g":1.07},{"r":4.55,"g":1.11},{"r":4.6,"g":1.16},{"r":4.65,"g":1.21},{"r":4.7,"g":1.26},{"r":4.75,"g":1.24},{"r":4.8,"g":1.2},{"r":4.85,"g":1.17},{"r":4.9,"g":1.15},{"r":4.95,"g":1.16},{"r":5,"g":1.2},{"r":5.05,"g":1.19},{"r":5.1,"g":1.17},{"r":5.15,"g":1.16},{"r":5.2,"g":1.18},{"r":5.25,"g":1.17},{"r":5.3,"g":1.14},{"r":5.35,"g":1.12},{"r":5.4,"g":1.13},{"r":5.45,"g":1.12},{"r":5.5,"g":1.09},{"r":5.55,"g":1.07},{"r":5.6,"g":1.07},{"r":5.65,"g":1.05},{"r":5.7,"g":1.03},{"r":5.75,"g":1.01},{"r":5.8,"g":1.01},{"r":5.85,"g":0.99},{"r":5.9,"g":0.97},{"r":5.95,"g":0.96},{"r":6,"g":0.96},{"r":6.05,"g":0.94},{"r":6.1,"g":0.92},{"r":6.15,"g":0.92},{"r":6.2,"g":0.92},{"r":6.25,"g":0.9},{"r":6.3,"g":0.88},{"r":6.35,"g":0.89},{"r":6.4,"g":0.91},{"r":6.45,"g":0.91},{"r":6.5,"g":0.92},{"r":6.55,"g":0.94},{"r":6.6,"g":0.96},{"r":6.65,"g":0.96},{"r":6.7,"g":0.95},{"r":6.75,"g":0.95},{"r":6.8,"g":0.96},{"r":6.85,"g":0.96},{"r":6.9,"g":0.95},{"r":6.95,"g":0.96},{"r":7,"g":0.98},{"r":7.05,"g":0.98},{"r":7.1,"g":0.98},{"r":7.15,"g":1},{"r":7.2,"g":1.03},{"r":7.25,"g":1.05},{"r":7.3,"g":1.07},{"r":7.35,"g":1.1},{"r":7.4,"g":1.11},{"r":7.45,"g":1.12},{"r":7.5,"g":1.13},{"r":7.55,"g":1.12},{"r":7.6,"g":1.1},{"r":7.65,"g":1.09},{"r":7.7,"g":1.1},{"r":7.75,"g":1.1},{"r":7.8,"g":1.08},{"r":7.85,"g":1.07},{"r":7.9,"g":1.08},{"r":7.95,"g":1.09},{"r":8,"g":1.09},{"r":8.05,"g":1.08},{"r":8.1,"g":1.07},{"r":8.15,"g":1.08},{"r":8.2,"g":1.07},{"r":8.25,"g":1.05},{"r":8.3,"g":1.04},{"r":8.35,"g":1.04},{"r":8.4,"g":1.03},{"r":8.45,"g":1.02},{"r":8.5,"g":1.01},{"r":8.55,"g":1},{"r":8.6,"g":1},{"r":8.65,"g":0.99},{"r":8.7,"g":0.98},{"r":8.75,"g":0.98},{"r":8.8,"g":0.98},{"r":8.85,"g":0.97},{"r":8.9,"g":0.96},{"r":8.95,"g":0.95},{"r":9,"g":0.94},{"r":9.05,"g":0.93},{"r":9.1,"g":0.92},{"r":9.15,"g":0.92},{"r":9.2,"g":0.92},{"r":9.25,"g":0.92},{"r":9.3,"g":0.92},{"r":9.35,"g":0.93},{"r":9.4,"g":0.93},{"r":9.45,"g":0.94},{"r":9.5,"g":0.95},{"r":9.55,"g":0.96},{"r":9.6,"g":0.97},{"r":9.65,"g":0.98},{"r":9.7,"g":0.99},{"r":9.75,"g":1.01},{"r":9.8,"g":1.03},{"r":9.85,"g":1.05},{"r":9.9,"g":1.06},{"r":9.95,"g":1.05},{"r":10,"g":1.04}],
    "b1n": [{"r":2.06,"g":0},{"r":2.12,"g":0.06},{"r":2.2,"g":0.11},{"r":2.26,"g":0.14},{"r":2.31,"g":0.16},{"r":2.35,"g":0.25},{"r":2.38,"g":0.4},{"r":2.42,"g":0.7},{"r":2.45,"g":0.98},{"r":2.5,"g":1.35},{"r":2.56,"g":1.71},{"r":2.61,"g":2.02},{"r":2.66,"g":2.29},{"r":2.7,"g":2.42},{"r":2.74,"g":2.48},{"r":2.78,"g":2.5},{"r":2.82,"g":2.42},{"r":2.86,"g":2.3},{"r":2.9,"g":2.25},{"r":2.96,"g":2.23},{"r":3.02,"g":2.21},{"r":3.08,"g":2.16},{"r":3.13,"g":2.08},{"r":3.17,"g":1.92},{"r":3.2,"g":1.76},{"r":3.24,"g":1.5},{"r":3.27,"g":1.29},{"r":3.3,"g":1.12},{"r":3.34,"g":0.98},{"r":3.4,"g":0.83},{"r":3.45,"g":0.73},{"r":3.5,"g":0.65},{"r":3.6,"g":0.53},{"r":3.7,"g":0.45},{"r":3.8,"g":0.39},{"r":3.91,"g":0.35},{"r":4,"g":0.37},{"r":4.1,"g":0.43},{"r":4.2,"g":0.51},{"r":4.3,"g":0.6},{"r":4.4,"g":0.7},{"r":4.5,"g":0.85},{"r":4.6,"g":1},{"r":4.7,"g":1.13},{"r":4.8,"g":1.23},{"r":4.9,"g":1.27},{"r":5,"g":1.28},{"r":5.1,"g":1.29},{"r":5.2,"g":1.29},{"r":5.3,"g":1.28},{"r":5.4,"g":1.26},{"r":5.5,"g":1.23},{"r":5.6,"g":1.2},{"r":5.7,"g":1.17},{"r":5.8,"g":1.13},{"r":5.9,"g":1.09},{"r":6,"g":1.05},{"r":6.1,"g":1},{"r":6.2,"g":0.94},{"r":6.3,"g":0.88},{"r":6.4,"g":0.83},{"r":6.5,"g":0.79},{"r":6.6,"g":0.77},{"r":6.7,"g":0.77},{"r":6.8,"g":0.8},{"r":6.9,"g":0.85},{"r":7,"g":0.92},{"r":7.1,"g":0.99},{"r":7.2,"g":1.05},{"r":7.3,"g":1.1},{"r":7.4,"g":1.14},{"r":7.5,"g":1.16},{"r":7.6,"g":1.15},{"r":7.7,"g":1.12},{"r":7.8,"g":1.1},{"r":7.9,"g":1.08},{"r":8,"g":1.06},{"r":8.1,"g":1.04},{"r":8.2,"g":1.02},{"r":8.3,"g":1},{"r":8.4,"g":0.98},{"r":8.5,"g":0.96},{"r":8.6,"g":0.95},{"r":8.7,"g":0.94},{"r":8.8,"g":0.93},{"r":8.9,"g":0.93},{"r":9,"g":0.93},{"r":9.1,"g":0.93},{"r":9.2,"g":0.94},{"r":9.3,"g":0.95},{"r":9.4,"g":0.96},{"r":9.5,"g":0.98},{"r":9.6,"g":0.99},{"r":9.7,"g":1},{"r":9.8,"g":1.02},{"r":9.9,"g":1.03},{"r":10,"g":1.04}],
    "b2t": [{"r":1,"g":0},{"r":1.05,"g":0},{"r":1.1,"g":0},{"r":1.15,"g":0},{"r":1.2,"g":0},{"r":1.25,"g":0},{"r":1.3,"g":0},{"r":1.35,"g":0},{"r":1.4,"g":0},{"r":1.45,"g":0},{"r":1.5,"g":0},{"r":1.55,"g":0},{"r":1.6,"g":0},{"r":1.65,"g":0},{"r":1.7,"g":0},{"r":1.75,"g":0},{"r":1.8,"g":0},{"r":1.85,"g":0},{"r":1.9,"g":0},{"r":1.95,"g":0.02},{"r":2,"g":0.04},{"r":2.05,"g":0.06},{"r":2.1,"g":0.1},{"r":2.15,"g":0.15},{"r":2.2,"g":0.22},{"r":2.25,"g":0.45},{"r":2.3,"g":0.78},{"r":2.35,"g":1.15},{"r":2.4,"g":1.43},{"r":2.45,"g":1.74},{"r":2.5,"g":2.06},{"r":2.55,"g":2.36},{"r":2.6,"g":2.62},{"r":2.65,"g":2.85},{"r":2.7,"g":2.9},{"r":2.75,"g":2.92},{"r":2.8,"g":2.84},{"r":2.85,"g":2.5},{"r":2.9,"g":2.14},{"r":2.95,"g":1.82},{"r":3,"g":1.56},{"r":3.05,"g":1.4},{"r":3.1,"g":1.2},{"r":3.15,"g":1.02},{"r":3.2,"g":0.9},{"r":3.25,"g":0.75},{"r":3.3,"g":0.66},{"r":3.35,"g":0.6},{"r":3.4,"g":0.54},{"r":3.45,"g":0.52},{"r":3.5,"g":0.51},{"r":3.55,"g":0.52},{"r":3.6,"g":0.55},{"r":3.65,"g":0.57},{"r":3.7,"g":0.57},{"r":3.75,"g":0.56},{"r":3.8,"g":0.53},{"r":3.85,"g":0.5},{"r":3.9,"g":0.47},{"r":3.95,"g":0.47},{"r":4,"g":0.51},{"r":4.05,"g":0.56},{"r":4.1,"g":0.63},{"r":4.15,"g":0.71},{"r":4.2,"g":0.8},{"r":4.25,"g":0.9},{"r":4.3,"g":1},{"r":4.35,"g":1.09},{"r":4.4,"g":1.18},{"r":4.45,"g":1.25},{"r":4.5,"g":1.3},{"r":4.55,"g":1.32},{"r":4.6,"g":1.32},{"r":4.65,"g":1.3},{"r":4.7,"g":1.25},{"r":4.75,"g":1.22},{"r":4.8,"g":1.2},{"r":4.85,"g":1.19},{"r":4.9,"g":1.17},{"r":4.95,"g":1.16},{"r":5,"g":1.16},{"r":5.05,"g":1.15},{"r":5.1,"g":1.14},{"r":5.15,"g":1.15},{"r":5.2,"g":1.18},{"r":5.25,"g":1.21},{"r":5.3,"g":1.22},{"r":5.35,"g":1.2},{"r":5.4,"g":1.15},{"r":5.45,"g":1.11},{"r":5.5,"g":1.09},{"r":5.55,"g":1.08},{"r":5.6,"g":1.08},{"r":5.65,"g":1.07},{"r":5.7,"g":1.06},{"r":5.75,"g":1.05},{"r":5.8,"g":1.03},{"r":5.85,"g":1},{"r":5.9,"g":0.96},{"r":5.95,"g":0.93},{"r":6,"g":0.91},{"r":6.05,"g":0.9},{"r":6.1,"g":0.88},{"r":6.15,"g":0.86},{"r":6.2,"g":0.85},{"r":6.25,"g":0.85},{"r":6.3,"g":0.85},{"r":6.35,"g":0.86},{"r":6.4,"g":0.87},{"r":6.45,"g":0.87},{"r":6.5,"g":0.88},{"r":6.55,"g":0.89},{"r":6.6,"g":0.91},{"r":6.65,"g":0.94},{"r":6.7,"g":0.97},{"r":6.75,"g":1.02},{"r":6.8,"g":1.06},{"r":6.85,"g":1.08},{"r":6.9,"g":1.09},{"r":6.95,"g":1.08},{"r":7,"g":1.07},{"r":7.05,"g":1.06},{"r":7.1,"g":1.06},{"r":7.15,"g":1.07},{"r":7.2,"g":1.06},{"r":7.25,"g":1.06},{"r":7.3,"g":1.07},{"r":7.35,"g":1.08},{"r":7.4,"g":1.08},{"r":7.45,"g":1.08},{"r":7.5,"g":1.09},{"r":7.55,"g":1.09},{"r":7.6,"g":1.08},{"r":7.65,"g":1.07},{"r":7.7,"g":1.06},{"r":7.75,"g":1.05},{"r":7.8,"g":1.04},{"r":7.85,"g":1.03},{"r":7.9,"g":1.02},{"r":7.95,"g":1.01},{"r":8,"g":1},{"r":8.05,"g":0.99},{"r":8.1,"g":0.98},{"r":8.15,"g":0.97},{"r":8.2,"g":0.96},{"r":8.25,"g":0.95},{"r":8.3,"g":0.96},{"r":8.35,"g":0.97},{"r":8.4,"g":0.98},{"r":8.45,"g":0.98},{"r":8.5,"g":0.98},{"r":8.55,"g":0.98},{"r":8.6,"g":0.98},{"r":8.65,"g":0.97},{"r":8.7,"g":0.97},{"r":8.75,"g":0.96},{"r":8.8,"g":0.96},{"r":8.85,"g":0.96},{"r":8.9,"g":0.95},{"r":8.95,"g":0.94},{"r":9,"g":0.93},{"r":9.05,"g":0.93},{"r":9.1,"g":0.94},{"r":9.15,"g":0.96},{"r":9.2,"g":0.98},{"r":9.25,"g":0.99},{"r":9.3,"g":1},{"r":9.35,"g":1.01},{"r":9.4,"g":1.02},{"r":9.45,"g":1.03},{"r":9.5,"g":1.04},{"r":9.55,"g":1.04},{"r":9.6,"g":1.05},{"r":9.65,"g":1.05},{"r":9.7,"g":1.06},{"r":9.75,"g":1.06},{"r":9.8,"g":1.05},{"r":9.85,"g":1.05},{"r":9.9,"g":1.05},{"r":9.95,"g":1.06},{"r":10,"g":1.07}],
    "b2n": [{"r":2.02,"g":0},{"r":2.1,"g":0.04},{"r":2.2,"g":0.09},{"r":2.26,"g":0.16},{"r":2.31,"g":0.25},{"r":2.35,"g":0.42},{"r":2.38,"g":0.61},{"r":2.41,"g":0.95},{"r":2.45,"g":1.4},{"r":2.5,"g":1.82},{"r":2.56,"g":2.19},{"r":2.61,"g":2.42},{"r":2.66,"g":2.61},{"r":2.71,"g":2.78},{"r":2.75,"g":2.88},{"r":2.77,"g":2.92},{"r":2.8,"g":2.86},{"r":2.84,"g":2.7},{"r":2.88,"g":2.48},{"r":2.92,"g":2.28},{"r":2.96,"g":2.08},{"r":3,"g":1.95},{"r":3.05,"g":1.8},{"r":3.1,"g":1.65},{"r":3.15,"g":1.55},{"r":3.2,"g":1.45},{"r":3.24,"g":1.35},{"r":3.27,"g":1.24},{"r":3.3,"g":1.1},{"r":3.34,"g":0.93},{"r":3.4,"g":0.74},{"r":3.45,"g":0.61},{"r":3.5,"g":0.53},{"r":3.55,"g":0.47},{"r":3.63,"g":0.43},{"r":3.75,"g":0.39},{"r":3.85,"g":0.36},{"r":3.91,"g":0.35},{"r":3.97,"g":0.38},{"r":4.06,"g":0.46},{"r":4.15,"g":0.55},{"r":4.27,"g":0.67},{"r":4.38,"g":0.82},{"r":4.49,"g":0.98},{"r":4.6,"g":1.13},{"r":4.7,"g":1.24},{"r":4.8,"g":1.31},{"r":4.88,"g":1.35},{"r":4.95,"g":1.33},{"r":5.05,"g":1.27},{"r":5.13,"g":1.24},{"r":5.2,"g":1.22},{"r":5.3,"g":1.2},{"r":5.41,"g":1.19},{"r":5.5,"g":1.15},{"r":5.6,"g":1.1},{"r":5.7,"g":1.06},{"r":5.8,"g":1.01},{"r":5.9,"g":0.96},{"r":6,"g":0.91},{"r":6.1,"g":0.86},{"r":6.2,"g":0.83},{"r":6.27,"g":0.82},{"r":6.4,"g":0.83},{"r":6.5,"g":0.85},{"r":6.6,"g":0.87},{"r":6.7,"g":0.92},{"r":6.8,"g":0.97},{"r":6.9,"g":1.03},{"r":7,"g":1.07},{"r":7.1,"g":1.1},{"r":7.2,"g":1.12},{"r":7.3,"g":1.13},{"r":7.4,"g":1.13},{"r":7.5,"g":1.12},{"r":7.6,"g":1.11},{"r":7.7,"g":1.09},{"r":7.8,"g":1.07},{"r":7.9,"g":1.05},{"r":8,"g":1.04},{"r":8.1,"g":1.02},{"r":8.2,"g":0.99},{"r":8.3,"g":0.97},{"r":8.4,"g":0.95},{"r":8.5,"g":0.94},{"r":8.6,"g":0.94},{"r":8.7,"g":0.94},{"r":8.8,"g":0.94},{"r":8.9,"g":0.95},{"r":9,"g":0.96},{"r":9.1,"g":0.98},{"r":9.2,"g":1},{"r":9.3,"g":1.02},{"r":9.4,"g":1.04},{"r":9.5,"g":1.05},{"r":9.6,"g":1.06},{"r":9.7,"g":1.06},{"r":9.8,"g":1.05},{"r":9.9,"g":1.04},{"r":10,"g":1.04}],
    "b3t": [{"r":1,"g":0},{"r":1.05,"g":0},{"r":1.1,"g":0},{"r":1.15,"g":0},{"r":1.2,"g":0},{"r":1.25,"g":0},{"r":1.3,"g":0},{"r":1.35,"g":0},{"r":1.4,"g":0},{"r":1.45,"g":0},{"r":1.5,"g":0},{"r":1.55,"g":0},{"r":1.6,"g":0},{"r":1.65,"g":0},{"r":1.7,"g":0},{"r":1.75,"g":0},{"r":1.8,"g":0},{"r":1.85,"g":0},{"r":1.9,"g":0},{"r":1.95,"g":0.01},{"r":2,"g":0.03},{"r":2.05,"g":0.04},{"r":2.1,"g":0.06},{"r":2.15,"g":0.15},{"r":2.2,"g":0.32},{"r":2.25,"g":0.55},{"r":2.3,"g":0.85},{"r":2.35,"g":1.25},{"r":2.4,"g":1.65},{"r":2.45,"g":2.05},{"r":2.5,"g":2.4},{"r":2.55,"g":2.7},{"r":2.6,"g":2.84},{"r":2.65,"g":2.89},{"r":2.7,"g":2.89},{"r":2.75,"g":2.72},{"r":2.8,"g":2.4},{"r":2.85,"g":2.1},{"r":2.9,"g":1.75},{"r":2.95,"g":1.48},{"r":3,"g":1.3},{"r":3.05,"g":1.17},{"r":3.1,"g":1.05},{"r":3.15,"g":0.93},{"r":3.2,"g":0.82},{"r":3.25,"g":0.74},{"r":3.3,"g":0.67},{"r":3.35,"g":0.6},{"r":3.4,"g":0.53},{"r":3.45,"g":0.48},{"r":3.5,"g":0.44},{"r":3.55,"g":0.4},{"r":3.6,"g":0.37},{"r":3.65,"g":0.37},{"r":3.7,"g":0.39},{"r":3.75,"g":0.43},{"r":3.8,"g":0.47},{"r":3.85,"g":0.51},{"r":3.9,"g":0.56},{"r":3.95,"g":0.61},{"r":4,"g":0.68},{"r":4.05,"g":0.75},{"r":4.1,"g":0.83},{"r":4.15,"g":0.91},{"r":4.2,"g":0.98},{"r":4.25,"g":1.05},{"r":4.3,"g":1.12},{"r":4.35,"g":1.19},{"r":4.4,"g":1.25},{"r":4.45,"g":1.29},{"r":4.5,"g":1.32},{"r":4.55,"g":1.35},{"r":4.6,"g":1.37},{"r":4.65,"g":1.37},{"r":4.7,"g":1.34},{"r":4.75,"g":1.3},{"r":4.8,"g":1.25},{"r":4.85,"g":1.21},{"r":4.9,"g":1.18},{"r":4.95,"g":1.16},{"r":5,"g":1.15},{"r":5.05,"g":1.14},{"r":5.1,"g":1.13},{"r":5.15,"g":1.12},{"r":5.2,"g":1.1},{"r":5.25,"g":1.07},{"r":5.3,"g":1.04},{"r":5.35,"g":1.02},{"r":5.4,"g":1},{"r":5.45,"g":0.98},{"r":5.5,"g":0.96},{"r":5.55,"g":0.95},{"r":5.6,"g":0.94},{"r":5.65,"g":0.93},{"r":5.7,"g":0.92},{"r":5.75,"g":0.92},{"r":5.8,"g":0.91},{"r":5.85,"g":0.89},{"r":5.9,"g":0.87},{"r":5.95,"g":0.85},{"r":6,"g":0.84},{"r":6.05,"g":0.85},{"r":6.1,"g":0.87},{"r":6.15,"g":0.89},{"r":6.2,"g":0.91},{"r":6.25,"g":0.93},{"r":6.3,"g":0.95},{"r":6.35,"g":0.97},{"r":6.4,"g":0.99},{"r":6.45,"g":1.01},{"r":6.5,"g":1.02},{"r":6.55,"g":1.03},{"r":6.6,"g":1.04},{"r":6.65,"g":1.04},{"r":6.7,"g":1.05},{"r":6.75,"g":1.05},{"r":6.8,"g":1.06},{"r":6.85,"g":1.06},{"r":6.9,"g":1.06},{"r":6.95,"g":1.05},{"r":7,"g":1.05},{"r":7.05,"g":1.05},{"r":7.1,"g":1.05},{"r":7.15,"g":1.04},{"r":7.2,"g":1.04},{"r":7.25,"g":1.04},{"r":7.3,"g":1.03},{"r":7.35,"g":1.03},{"r":7.4,"g":1.03},{"r":7.45,"g":1.03},{"r":7.5,"g":1.03},{"r":7.55,"g":1.02},{"r":7.6,"g":1.02},{"r":7.65,"g":1.02},{"r":7.7,"g":1.01},{"r":7.75,"g":1},{"r":7.8,"g":0.99},{"r":7.85,"g":0.98},{"r":7.9,"g":0.98},{"r":7.95,"g":0.97},{"r":8,"g":0.97},{"r":8.05,"g":0.97},{"r":8.1,"g":0.97},{"r":8.15,"g":0.97},{"r":8.2,"g":0.96},{"r":8.25,"g":0.96},{"r":8.3,"g":0.96},{"r":8.35,"g":0.96},{"r":8.4,"g":0.96},{"r":8.45,"g":0.96},{"r":8.5,"g":0.95},{"r":8.55,"g":0.95},{"r":8.6,"g":0.94},{"r":8.65,"g":0.94},{"r":8.7,"g":0.94},{"r":8.75,"g":0.97},{"r":8.8,"g":1},{"r":8.85,"g":1.03},{"r":8.9,"g":1.05},{"r":8.95,"g":1.04},{"r":9,"g":1.02},{"r":9.05,"g":1.01},{"r":9.1,"g":1},{"r":9.15,"g":0.99},{"r":9.2,"g":0.98},{"r":9.25,"g":0.97},{"r":9.3,"g":0.97},{"r":9.35,"g":0.97},{"r":9.4,"g":0.97},{"r":9.45,"g":0.97},{"r":9.5,"g":0.97},{"r":9.55,"g":0.98},{"r":9.6,"g":0.99},{"r":9.65,"g":1.01},{"r":9.7,"g":1.03},{"r":9.75,"g":1.05},{"r":9.8,"g":1.05},{"r":9.85,"g":1.04},{"r":9.9,"g":1.03},{"r":9.95,"g":1.03},{"r":10,"g":1.03}],
    "b3n": [{"r":2.2,"g":0},{"r":2.24,"g":0.1},{"r":2.28,"g":0.3},{"r":2.31,"g":0.5},{"r":2.35,"g":0.85},{"r":2.38,"g":1.18},{"r":2.42,"g":1.55},{"r":2.45,"g":1.87},{"r":2.5,"g":2.25},{"r":2.54,"g":2.55},{"r":2.58,"g":2.8},{"r":2.63,"g":3.08},{"r":2.68,"g":3.28},{"r":2.72,"g":3.37},{"r":2.75,"g":3.36},{"r":2.78,"g":3.28},{"r":2.81,"g":3.1},{"r":2.85,"g":2.78},{"r":2.88,"g":2.5},{"r":2.92,"g":2.15},{"r":2.95,"g":1.92},{"r":3,"g":1.62},{"r":3.05,"g":1.44},{"r":3.1,"g":1.32},{"r":3.15,"g":1.22},{"r":3.2,"g":1.12},{"r":3.25,"g":1.01},{"r":3.3,"g":0.88},{"r":3.35,"g":0.76},{"r":3.4,"g":0.68},{"r":3.45,"g":0.61},{"r":3.5,"g":0.54},{"r":3.55,"g":0.47},{"r":3.6,"g":0.4},{"r":3.65,"g":0.33},{"r":3.7,"g":0.28},{"r":3.75,"g":0.26},{"r":3.8,"g":0.27},{"r":3.85,"g":0.29},{"r":3.91,"g":0.32},{"r":4,"g":0.38},{"r":4.06,"g":0.45},{"r":4.13,"g":0.58},{"r":4.2,"g":0.71},{"r":4.3,"g":0.86},{"r":4.41,"g":1.03},{"r":4.5,"g":1.16},{"r":4.6,"g":1.3},{"r":4.7,"g":1.37},{"r":4.77,"g":1.39},{"r":4.85,"g":1.36},{"r":4.92,"g":1.3},{"r":4.99,"g":1.24},{"r":5.05,"g":1.19},{"r":5.12,"g":1.18},{"r":5.2,"g":1.19},{"r":5.28,"g":1.18},{"r":5.34,"g":1.15},{"r":5.4,"g":1.1},{"r":5.48,"g":1.03},{"r":5.56,"g":0.97},{"r":5.66,"g":0.9},{"r":5.77,"g":0.84},{"r":5.9,"g":0.78},{"r":6,"g":0.75},{"r":6.1,"g":0.74},{"r":6.2,"g":0.75},{"r":6.3,"g":0.77},{"r":6.4,"g":0.82},{"r":6.5,"g":0.88},{"r":6.6,"g":0.94},{"r":6.7,"g":0.98},{"r":6.8,"g":1.03},{"r":6.9,"g":1.07},{"r":7,"g":1.1},{"r":7.06,"g":1.13},{"r":7.15,"g":1.11},{"r":7.25,"g":1.09},{"r":7.4,"g":1.05},{"r":7.6,"g":1},{"r":7.77,"g":0.97},{"r":7.9,"g":0.95},{"r":8.05,"g":0.93},{"r":8.2,"g":0.92},{"r":8.35,"g":0.9},{"r":8.5,"g":0.89},{"r":8.65,"g":0.91},{"r":8.77,"g":0.95},{"r":8.9,"g":0.99},{"r":9,"g":1.02},{"r":9.13,"g":1.05},{"r":9.25,"g":1.07},{"r":9.41,"g":1.08},{"r":9.55,"g":1.07},{"r":9.7,"g":1.05},{"r":9.85,"g":1.01},{"r":10,"g":0.97}]
  },
  "hconcat": [
    {
      "title": {"text": "(a)", "orient": "bottom", "anchor": "middle", "frame": "bounds", "font": "Liberation Serif", "fontSize": 22, "fontWeight": "normal", "color": "black", "offset": 28},
      "spacing": 0,
      "bounds": "flush",
      "resolve": {"scale": {"color": "independent", "shape": "independent"}, "legend": {"color": "independent", "shape": "independent"}},
      "vconcat": [
        {
          "width": 420, "height": 223,
          "resolve": {"axis": {"x": "independent", "y": "independent"}},
          "layer": [
            {
              "data": {"name": "a1t"},
              "mark": {"type": "point", "shape": "circle", "filled": false, "size": 90, "strokeWidth": 1, "color": "black", "opacity": 1, "clip": true},
              "encoding": {
                "x": {"field": "r", "type": "quantitative", "scale": {"domain": [1, 10], "nice": false, "zero": false}, "axis": {"orient": "bottom", "values": [1,2,3,4,5,6,7,8,9,10], "tickSize": -8, "labels": false, "title": null}},
                "y": {"field": "g", "type": "quantitative", "scale": {"domain": [0, 3.5], "nice": false, "zero": false}, "axis": {"orient": "left", "values": [0,1,2,3], "tickSize": -8, "format": "d", "labelPadding": 18, "title": "g(r)", "titlePadding": 8}},
                "shape": {"datum": "This work Cu₆₄Zr₃₆", "type": "nominal", "scale": {"range": ["circle"]},
                  "legend": {"orient": "none", "legendX": 123.5, "legendY": 6, "title": null, "clipHeight": 30, "symbolSize": 90, "symbolStrokeWidth": 1, "labelOffset": 19.5}}
              }
            },
            {
              "data": {"name": "a1w"},
              "mark": {"type": "line", "strokeWidth": 3, "interpolate": "monotone", "clip": true},
              "encoding": {
                "x": {"field": "r", "type": "quantitative", "axis": {"orient": "bottom", "values": [1.5,2.5,3.5,4.5,5.5,6.5,7.5,8.5,9.5], "tickSize": -4, "labels": false, "title": null}},
                "y": {"field": "g", "type": "quantitative", "axis": {"orient": "left", "values": [0.5,1.5,2.5], "tickSize": -4, "labels": false, "title": null}},
                "color": {"datum": "Wang et al. XRD Cu₆₅Zr₃₅", "type": "nominal",
                  "scale": {"domain": ["Wang et al. XRD Cu₆₅Zr₃₅", "Mendelev et al. XRD Cu₆₅Zr₃₅", "Mattern et al. XRD Cu₆₅Zr₃₅"], "range": ["#0000ff", "black", "#ff0000"]},
                  "legend": {"orient": "none", "legendX": 110, "legendY": 36, "title": null, "clipHeight": 30, "symbolType": "stroke", "symbolSize": 1936, "symbolStrokeWidth": 3, "labelOffset": 5}}
              }
            },
            {
              "data": {"name": "a1m"},
              "mark": {"type": "line", "strokeWidth": 3, "interpolate": "monotone", "clip": true},
              "encoding": {
                "x": {"field": "r", "type": "quantitative", "axis": {"orient": "top", "values": [1,2,3,4,5,6,7,8,9,10], "tickSize": -8, "labels": false, "title": null}},
                "y": {"field": "g", "type": "quantitative", "axis": {"orient": "right", "values": [0,1,2,3], "tickSize": -8, "labels": false, "title": null}},
                "color": {"datum": "Mendelev et al. XRD Cu₆₅Zr₃₅", "type": "nominal"}
              }
            },
            {
              "data": {"name": "a1x"},
              "mark": {"type": "line", "strokeWidth": 3, "interpolate": "monotone", "clip": true},
              "encoding": {
                "x": {"field": "r", "type": "quantitative", "axis": {"orient": "top", "values": [1.5,2.5,3.5,4.5,5.5,6.5,7.5,8.5,9.5], "tickSize": -4, "labels": false, "title": null}},
                "y": {"field": "g", "type": "quantitative", "axis": {"orient": "right", "values": [0.5,1.5,2.5], "tickSize": -4, "labels": false, "title": null}},
                "color": {"datum": "Mattern et al. XRD Cu₆₅Zr₃₅", "type": "nominal"}
              }
            }
          ]
        },
        {
          "width": 420, "height": 223,
          "resolve": {"axis": {"x": "independent", "y": "independent"}},
          "layer": [
            {
              "data": {"name": "a2t"}, "transform": [{"filter": "datum.r < 4"}],
              "mark": {"type": "point", "shape": "circle", "filled": false, "size": 90, "strokeWidth": 1, "color": "black", "opacity": 1, "clip": true},
              "encoding": {
                "x": {"field": "r", "type": "quantitative", "scale": {"domain": [1, 10], "nice": false, "zero": false}, "axis": {"orient": "bottom", "values": [1,2,3,4,5,6,7,8,9,10], "tickSize": -8, "labels": false, "title": null}},
                "y": {"field": "g", "type": "quantitative", "scale": {"domain": [0, 3.5], "nice": false, "zero": false}, "axis": {"orient": "left", "values": [0,1,2,3], "tickSize": -8, "format": "d", "labelPadding": 18, "title": "g(r)", "titlePadding": 8}},
                "shape": {"datum": "This work Cu₅₀Zr₅₀", "type": "nominal", "scale": {"range": ["circle"]},
                  "legend": {"orient": "none", "legendX": 115.5, "legendY": 5, "title": null, "clipHeight": 32, "symbolSize": 90, "symbolStrokeWidth": 1, "labelOffset": 20.5}}
              }
            },
            {
              "data": {"name": "a2t"}, "transform": [{"filter": "datum.r >= 4 && datum.r < 7"}],
              "mark": {"type": "point", "shape": "circle", "filled": false, "size": 90, "strokeWidth": 1, "color": "black", "opacity": 1, "clip": true},
              "encoding": {
                "x": {"field": "r", "type": "quantitative", "axis": {"orient": "bottom", "values": [1.5,2.5,3.5,4.5,5.5,6.5,7.5,8.5,9.5], "tickSize": -4, "labels": false, "title": null}},
                "y": {"field": "g", "type": "quantitative", "axis": {"orient": "left", "values": [0.5,1.5,2.5], "tickSize": -4, "labels": false, "title": null}}
              }
            },
            {
              "data": {"name": "a2t"}, "transform": [{"filter": "datum.r >= 7"}],
              "mark": {"type": "point", "shape": "circle", "filled": false, "size": 90, "strokeWidth": 1, "color": "black", "opacity": 1, "clip": true},
              "encoding": {
                "x": {"field": "r", "type": "quantitative", "axis": {"orient": "top", "values": [1,2,3,4,5,6,7,8,9,10], "tickSize": -8, "labels": false, "title": null}},
                "y": {"field": "g", "type": "quantitative", "axis": {"orient": "right", "values": [0,1,2,3], "tickSize": -8, "labels": false, "title": null}}
              }
            },
            {
              "data": {"name": "a2x"},
              "mark": {"type": "line", "strokeWidth": 3, "interpolate": "monotone", "clip": true},
              "encoding": {
                "x": {"field": "r", "type": "quantitative", "axis": {"orient": "top", "values": [1.5,2.5,3.5,4.5,5.5,6.5,7.5,8.5,9.5], "tickSize": -4, "labels": false, "title": null}},
                "y": {"field": "g", "type": "quantitative", "axis": {"orient": "right", "values": [0.5,1.5,2.5], "tickSize": -4, "labels": false, "title": null}},
                "color": {"datum": "Mattern et al. XRD Cu₅₀Zr₅₀", "type": "nominal", "scale": {"range": ["#ff0000"]},
                  "legend": {"orient": "none", "legendX": 100, "legendY": 37, "title": null, "clipHeight": 32, "symbolType": "stroke", "symbolSize": 2116, "symbolStrokeWidth": 3, "labelOffset": 6}}
              }
            }
          ]
        },
        {
          "width": 420, "height": 223,
          "resolve": {"axis": {"x": "independent", "y": "independent"}},
          "layer": [
            {
              "data": {"name": "a3t"}, "transform": [{"filter": "datum.r < 4"}],
              "mark": {"type": "point", "shape": "circle", "filled": false, "size": 90, "strokeWidth": 1, "color": "black", "opacity": 1, "clip": true},
              "encoding": {
                "x": {"field": "r", "type": "quantitative", "scale": {"domain": [1, 10], "nice": false, "zero": false}, "axis": {"orient": "bottom", "values": [1,2,3,4,5,6,7,8,9,10], "tickSize": -8, "format": "d", "labelPadding": 18, "labelFlush": false, "labelOverlap": false, "title": "r (Angstroms)", "titlePadding": 5}},
                "y": {"field": "g", "type": "quantitative", "scale": {"domain": [0, 3.5], "nice": false, "zero": false}, "axis": {"orient": "left", "values": [0,1,2,3], "tickSize": -8, "format": "d", "labelPadding": 18, "title": "g(r)", "titlePadding": 8}},
                "shape": {"datum": "This work Cu₃₆Zr₆₄", "type": "nominal", "scale": {"range": ["circle"]},
                  "legend": {"orient": "none", "legendX": 130.5, "legendY": 3, "title": null, "clipHeight": 32, "symbolSize": 90, "symbolStrokeWidth": 1, "labelOffset": 20.5}}
              }
            },
            {
              "data": {"name": "a3t"}, "transform": [{"filter": "datum.r >= 4 && datum.r < 7"}],
              "mark": {"type": "point", "shape": "circle", "filled": false, "size": 90, "strokeWidth": 1, "color": "black", "opacity": 1, "clip": true},
              "encoding": {
                "x": {"field": "r", "type": "quantitative", "axis": {"orient": "bottom", "values": [1.5,2.5,3.5,4.5,5.5,6.5,7.5,8.5,9.5], "tickSize": -4, "labels": false, "title": null}},
                "y": {"field": "g", "type": "quantitative", "axis": {"orient": "left", "values": [0.5,1.5,2.5], "tickSize": -4, "labels": false, "title": null}}
              }
            },
            {
              "data": {"name": "a3t"}, "transform": [{"filter": "datum.r >= 7"}],
              "mark": {"type": "point", "shape": "circle", "filled": false, "size": 90, "strokeWidth": 1, "color": "black", "opacity": 1, "clip": true},
              "encoding": {
                "x": {"field": "r", "type": "quantitative", "axis": {"orient": "top", "values": [1,2,3,4,5,6,7,8,9,10], "tickSize": -8, "labels": false, "title": null}},
                "y": {"field": "g", "type": "quantitative", "axis": {"orient": "right", "values": [0,1,2,3], "tickSize": -8, "labels": false, "title": null}}
              }
            },
            {
              "data": {"name": "a3x"},
              "mark": {"type": "line", "strokeWidth": 3, "interpolate": "monotone", "clip": true},
              "encoding": {
                "x": {"field": "r", "type": "quantitative", "axis": {"orient": "top", "values": [1.5,2.5,3.5,4.5,5.5,6.5,7.5,8.5,9.5], "tickSize": -4, "labels": false, "title": null}},
                "y": {"field": "g", "type": "quantitative", "axis": {"orient": "right", "values": [0.5,1.5,2.5], "tickSize": -4, "labels": false, "title": null}},
                "color": {"datum": "Mattern et al. XRD Cu₃₅Zr₆₅", "type": "nominal", "scale": {"range": ["#ff0000"]},
                  "legend": {"orient": "none", "legendX": 115, "legendY": 34, "title": null, "clipHeight": 32, "symbolType": "stroke", "symbolSize": 2116, "symbolStrokeWidth": 3, "labelOffset": 6}}
              }
            }
          ]
        }
      ]
    },
    {
      "title": {"text": "(b)", "orient": "bottom", "anchor": "middle", "frame": "bounds", "font": "Liberation Serif", "fontSize": 22, "fontWeight": "normal", "color": "black", "offset": 28},
      "spacing": 0,
      "bounds": "flush",
      "resolve": {"scale": {"color": "independent", "shape": "independent"}, "legend": {"color": "independent", "shape": "independent"}},
      "vconcat": [
        {
          "width": 420, "height": 223,
          "resolve": {"axis": {"x": "independent", "y": "independent"}},
          "layer": [
            {
              "data": {"name": "b1t"}, "transform": [{"filter": "datum.r < 4"}],
              "mark": {"type": "point", "shape": "circle", "filled": false, "size": 90, "strokeWidth": 1, "color": "black", "opacity": 1, "clip": true},
              "encoding": {
                "x": {"field": "r", "type": "quantitative", "scale": {"domain": [1, 10], "nice": false, "zero": false}, "axis": {"orient": "bottom", "values": [1,2,3,4,5,6,7,8,9,10], "tickSize": -8, "labels": false, "title": null}},
                "y": {"field": "g", "type": "quantitative", "scale": {"domain": [0, 3.5], "nice": false, "zero": false}, "axis": {"orient": "left", "values": [0,1,2,3], "tickSize": -8, "format": "d", "labelPadding": 17, "title": "g(r)", "titlePadding": 8}},
                "shape": {"datum": "This work Cu₆₄Zr₃₆", "type": "nominal", "scale": {"range": ["circle"]},
                  "legend": {"orient": "none", "legendX": 129.5, "legendY": 5, "title": null, "clipHeight": 32, "symbolSize": 90, "symbolStrokeWidth": 1, "labelOffset": 20.5}}
              }
            },
            {
              "data": {"name": "b1t"}, "transform": [{"filter": "datum.r >= 4 && datum.r < 7"}],
              "mark": {"type": "point", "shape": "circle", "filled": false, "size": 90, "strokeWidth": 1, "color": "black", "opacity": 1, "clip": true},
              "encoding": {
                "x": {"field": "r", "type": "quantitative", "axis": {"orient": "bottom", "values": [1.5,2.5,3.5,4.5,5.5,6.5,7.5,8.5,9.5], "tickSize": -4, "labels": false, "title": null}},
                "y": {"field": "g", "type": "quantitative", "axis": {"orient": "left", "values": [0.5,1.5,2.5], "tickSize": -4, "labels": false, "title": null}}
              }
            },
            {
              "data": {"name": "b1t"}, "transform": [{"filter": "datum.r >= 7"}],
              "mark": {"type": "point", "shape": "circle", "filled": false, "size": 90, "strokeWidth": 1, "color": "black", "opacity": 1, "clip": true},
              "encoding": {
                "x": {"field": "r", "type": "quantitative", "axis": {"orient": "top", "values": [1,2,3,4,5,6,7,8,9,10], "tickSize": -8, "labels": false, "title": null}},
                "y": {"field": "g", "type": "quantitative", "axis": {"orient": "right", "values": [0,1,2,3], "tickSize": -8, "labels": false, "title": null}}
              }
            },
            {
              "data": {"name": "b1n"},
              "mark": {"type": "line", "strokeWidth": 3, "interpolate": "monotone", "clip": true},
              "encoding": {
                "x": {"field": "r", "type": "quantitative", "axis": {"orient": "top", "values": [1.5,2.5,3.5,4.5,5.5,6.5,7.5,8.5,9.5], "tickSize": -4, "labels": false, "title": null}},
                "y": {"field": "g", "type": "quantitative", "axis": {"orient": "right", "values": [0.5,1.5,2.5], "tickSize": -4, "labels": false, "title": null}},
                "color": {"datum": "Mattern et al. ND Cu₆₅Zr₃₅", "type": "nominal", "scale": {"range": ["#ff0000"]},
                  "legend": {"orient": "none", "legendX": 111, "legendY": 38, "title": null, "clipHeight": 32, "symbolType": "stroke", "symbolSize": 2401, "symbolStrokeWidth": 3, "labelOffset": 4}}
              }
            }
          ]
        },
        {
          "width": 420, "height": 223,
          "resolve": {"axis": {"x": "independent", "y": "independent"}},
          "layer": [
            {
              "data": {"name": "b2t"}, "transform": [{"filter": "datum.r < 4"}],
              "mark": {"type": "point", "shape": "circle", "filled": false, "size": 90, "strokeWidth": 1, "color": "black", "opacity": 1, "clip": true},
              "encoding": {
                "x": {"field": "r", "type": "quantitative", "scale": {"domain": [1, 10], "nice": false, "zero": false}, "axis": {"orient": "bottom", "values": [1,2,3,4,5,6,7,8,9,10], "tickSize": -8, "labels": false, "title": null}},
                "y": {"field": "g", "type": "quantitative", "scale": {"domain": [0, 3.5], "nice": false, "zero": false}, "axis": {"orient": "left", "values": [0,1,2,3], "tickSize": -8, "format": "d", "labelPadding": 17, "title": "g(r)", "titlePadding": 8}},
                "shape": {"datum": "This work Cu₅₀Zr₅₀", "type": "nominal", "scale": {"range": ["circle"]},
                  "legend": {"orient": "none", "legendX": 129.5, "legendY": 4, "title": null, "clipHeight": 32, "symbolSize": 90, "symbolStrokeWidth": 1, "labelOffset": 20.5}}
              }
            },
            {
              "data": {"name": "b2t"}, "transform": [{"filter": "datum.r >= 4 && datum.r < 7"}],
              "mark": {"type": "point", "shape": "circle", "filled": false, "size": 90, "strokeWidth": 1, "color": "black", "opacity": 1, "clip": true},
              "encoding": {
                "x": {"field": "r", "type": "quantitative", "axis": {"orient": "bottom", "values": [1.5,2.5,3.5,4.5,5.5,6.5,7.5,8.5,9.5], "tickSize": -4, "labels": false, "title": null}},
                "y": {"field": "g", "type": "quantitative", "axis": {"orient": "left", "values": [0.5,1.5,2.5], "tickSize": -4, "labels": false, "title": null}}
              }
            },
            {
              "data": {"name": "b2t"}, "transform": [{"filter": "datum.r >= 7"}],
              "mark": {"type": "point", "shape": "circle", "filled": false, "size": 90, "strokeWidth": 1, "color": "black", "opacity": 1, "clip": true},
              "encoding": {
                "x": {"field": "r", "type": "quantitative", "axis": {"orient": "top", "values": [1,2,3,4,5,6,7,8,9,10], "tickSize": -8, "labels": false, "title": null}},
                "y": {"field": "g", "type": "quantitative", "axis": {"orient": "right", "values": [0,1,2,3], "tickSize": -8, "labels": false, "title": null}}
              }
            },
            {
              "data": {"name": "b2n"},
              "mark": {"type": "line", "strokeWidth": 3, "interpolate": "monotone", "clip": true},
              "encoding": {
                "x": {"field": "r", "type": "quantitative", "axis": {"orient": "top", "values": [1.5,2.5,3.5,4.5,5.5,6.5,7.5,8.5,9.5], "tickSize": -4, "labels": false, "title": null}},
                "y": {"field": "g", "type": "quantitative", "axis": {"orient": "right", "values": [0.5,1.5,2.5], "tickSize": -4, "labels": false, "title": null}},
                "color": {"datum": "Mattern et al. ND Cu₅₀Zr₅₀", "type": "nominal", "scale": {"range": ["#ff0000"]},
                  "legend": {"orient": "none", "legendX": 112, "legendY": 37, "title": null, "clipHeight": 32, "symbolType": "stroke", "symbolSize": 2401, "symbolStrokeWidth": 3, "labelOffset": 4}}
              }
            }
          ]
        },
        {
          "width": 420, "height": 223,
          "resolve": {"axis": {"x": "independent", "y": "independent"}},
          "layer": [
            {
              "data": {"name": "b3t"}, "transform": [{"filter": "datum.r < 4"}],
              "mark": {"type": "point", "shape": "circle", "filled": false, "size": 90, "strokeWidth": 1, "color": "black", "opacity": 1, "clip": true},
              "encoding": {
                "x": {"field": "r", "type": "quantitative", "scale": {"domain": [1, 10], "nice": false, "zero": false}, "axis": {"orient": "bottom", "values": [1,2,3,4,5,6,7,8,9,10], "tickSize": -8, "format": "d", "labelPadding": 18, "labelFlush": false, "labelOverlap": false, "title": "r (Angstroms)", "titlePadding": 5}},
                "y": {"field": "g", "type": "quantitative", "scale": {"domain": [0, 3.5], "nice": false, "zero": false}, "axis": {"orient": "left", "values": [0,1,2,3], "tickSize": -8, "format": "d", "labelPadding": 17, "title": "g(r)", "titlePadding": 8}},
                "shape": {"datum": "This work Cu₃₆Zr₆₄", "type": "nominal", "scale": {"range": ["circle"]},
                  "legend": {"orient": "none", "legendX": 128.5, "legendY": 4, "title": null, "clipHeight": 32, "symbolSize": 90, "symbolStrokeWidth": 1, "labelOffset": 21.5}}
              }
            },
            {
              "data": {"name": "b3t"}, "transform": [{"filter": "datum.r >= 4 && datum.r < 7"}],
              "mark": {"type": "point", "shape": "circle", "filled": false, "size": 90, "strokeWidth": 1, "color": "black", "opacity": 1, "clip": true},
              "encoding": {
                "x": {"field": "r", "type": "quantitative", "axis": {"orient": "bottom", "values": [1.5,2.5,3.5,4.5,5.5,6.5,7.5,8.5,9.5], "tickSize": -4, "labels": false, "title": null}},
                "y": {"field": "g", "type": "quantitative", "axis": {"orient": "left", "values": [0.5,1.5,2.5], "tickSize": -4, "labels": false, "title": null}}
              }
            },
            {
              "data": {"name": "b3t"}, "transform": [{"filter": "datum.r >= 7"}],
              "mark": {"type": "point", "shape": "circle", "filled": false, "size": 90, "strokeWidth": 1, "color": "black", "opacity": 1, "clip": true},
              "encoding": {
                "x": {"field": "r", "type": "quantitative", "axis": {"orient": "top", "values": [1,2,3,4,5,6,7,8,9,10], "tickSize": -8, "labels": false, "title": null}},
                "y": {"field": "g", "type": "quantitative", "axis": {"orient": "right", "values": [0,1,2,3], "tickSize": -8, "labels": false, "title": null}}
              }
            },
            {
              "data": {"name": "b3n"},
              "mark": {"type": "line", "strokeWidth": 3, "interpolate": "monotone", "clip": true},
              "encoding": {
                "x": {"field": "r", "type": "quantitative", "axis": {"orient": "top", "values": [1.5,2.5,3.5,4.5,5.5,6.5,7.5,8.5,9.5], "tickSize": -4, "labels": false, "title": null}},
                "y": {"field": "g", "type": "quantitative", "axis": {"orient": "right", "values": [0.5,1.5,2.5], "tickSize": -4, "labels": false, "title": null}},
                "color": {"datum": "Mattern et al. ND Cu₃₅Zr₆₅", "type": "nominal", "scale": {"range": ["#ff0000"]},
                  "legend": {"orient": "none", "legendX": 111, "legendY": 37, "title": null, "clipHeight": 32, "symbolType": "stroke", "symbolSize": 2401, "symbolStrokeWidth": 3, "labelOffset": 5}}
              }
            }
          ]
        }
      ]
    }
  ],
  "spacing": 83,
  "resolve": {"scale": {"color": "independent", "shape": "independent"}, "legend": {"color": "independent", "shape": "independent"}},
  "config": {
    "view": {"stroke": "black", "strokeWidth": 1.6},
    "axis": {"domain": false, "grid": false, "tickColor": "black", "tickWidth": 1.3, "labelFont": "Liberation Sans", "labelFontSize": 18, "labelColor": "black", "labelFlush": false, "labelOverlap": false, "titleFont": "Liberation Sans", "titleFontSize": 27, "titleFontWeight": "normal", "titleColor": "black"},
    "legend": {"padding": 0, "rowPadding": 0, "labelFont": "Liberation Sans", "labelFontSize": 18, "labelColor": "black", "labelLimit": 400}
  }
}
